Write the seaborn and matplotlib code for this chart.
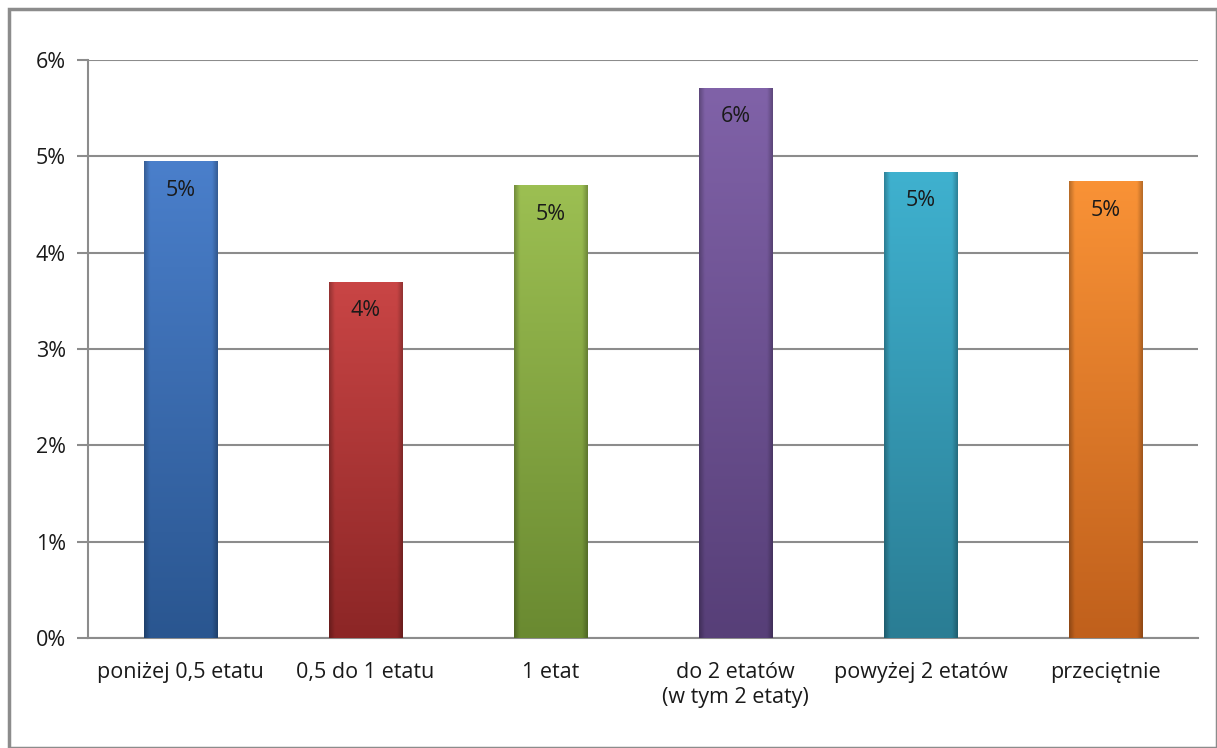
import matplotlib
matplotlib.use('Agg')
import matplotlib.pyplot as plt
import matplotlib.colors as mcolors
import numpy as np
import pandas as pd
import seaborn as sns

# data
categories = ['poniżej 0,5 etatu', '0,5 do 1 etatu', '1 etat',
              'do 2 etatów\n(w tym 2 etaty)', 'powyżej 2 etatów', 'przeciętnie']
values = [4.95, 3.70, 4.70, 5.71, 4.84, 4.74]
labels = ['5%', '4%', '5%', '6%', '5%', '5%']
colors_top = ['#4a7fcb', '#c94545', '#9cbf52', '#8062a8', '#3fb1cf', '#f99236']
colors_bot = ['#2a5690', '#8c2626', '#6a8a31', '#573f78', '#2a7d94', '#c0601c']

df = pd.DataFrame({'cat': categories, 'val': values})

sns.set_style('white')
plt.rcParams['font.family'] = ['Open Sans', 'DejaVu Sans']

fig = plt.figure(figsize=(12.17, 7.48), dpi=100)
ax = fig.add_axes([88 / 1217, 1 - 638 / 748, (1198 - 88) / 1217, (638 - 60) / 748])

sns.barplot(data=df, x='cat', y='val', hue='cat', palette=colors_top,
            width=0.4, legend=False, ax=ax, zorder=3)

# gradient fill on each bar (light top, dark bottom, darker edges)
for patch, ct, cb in zip(ax.patches, colors_top, colors_bot):
    x0, y0 = patch.get_x(), patch.get_y()
    w, h = patch.get_width(), patch.get_height()
    t = np.array(mcolors.to_rgb(ct))
    b = np.array(mcolors.to_rgb(cb))
    ny, nx = 100, 60
    fy = np.linspace(1, 0, ny)[:, None, None]
    img = b + (t - b) * fy
    img = np.repeat(img, nx, axis=1)
    xx = np.abs(np.linspace(-1, 1, nx))
    edge = np.clip((xx - 0.85) / 0.15, 0, 1)[None, :, None]
    img = img * (1 - 0.25 * edge)
    im = ax.imshow(img, extent=[x0, x0 + w, y0, y0 + h], aspect='auto',
                   zorder=4, interpolation='bilinear')
    im.set_clip_path(patch)
    patch.set_edgecolor('none')

for i, (v, lab) in enumerate(zip(values, labels)):
    ax.text(i, v - 0.3, lab, ha='center', va='center', fontsize=15.5,
            color='#1a1a1a', zorder=5)

ax.set_xlim(-0.5, len(categories) - 0.5)
ax.set_ylim(0, 6)
ax.set_yticks(np.arange(0, 7, 1))
ax.set_yticklabels([f'{int(t)}%' for t in np.arange(0, 7, 1)])
ax.yaxis.grid(True, color='#8c8c8c', linewidth=1.5, zorder=0)
ax.set_axisbelow(True)
ax.set_xlabel('')
ax.set_ylabel('')

ax.set_xticks(range(len(categories)))
ax.set_xticklabels(categories, fontsize=15.5, color='#1a1a1a', linespacing=1.25)
ax.tick_params(axis='x', length=0, pad=17)
ax.set_xticks(np.arange(-0.5, len(categories), 1), minor=True)
ax.tick_params(axis='x', which='minor', length=8, width=1.5, color='#8c8c8c',
               direction='out')
ax.tick_params(axis='y', labelsize=15.5, labelcolor='#1a1a1a', length=8, width=1.5,
               color='#8c8c8c', direction='out', left=True, pad=8)

for s in ['top', 'right']:
    ax.spines[s].set_visible(False)
for s in ['left', 'bottom']:
    ax.spines[s].set_color('#8c8c8c')
    ax.spines[s].set_linewidth(1.5)

# outer chart frame
fig.patches.append(plt.Rectangle((9 / 1217, 0.0), 1 - 9 / 1217, 1 - 9 / 748,
                                 transform=fig.transFigure, fill=False,
                                 edgecolor='#8c8c8c', linewidth=2.5))

fig.savefig('out.png', dpi=100)
